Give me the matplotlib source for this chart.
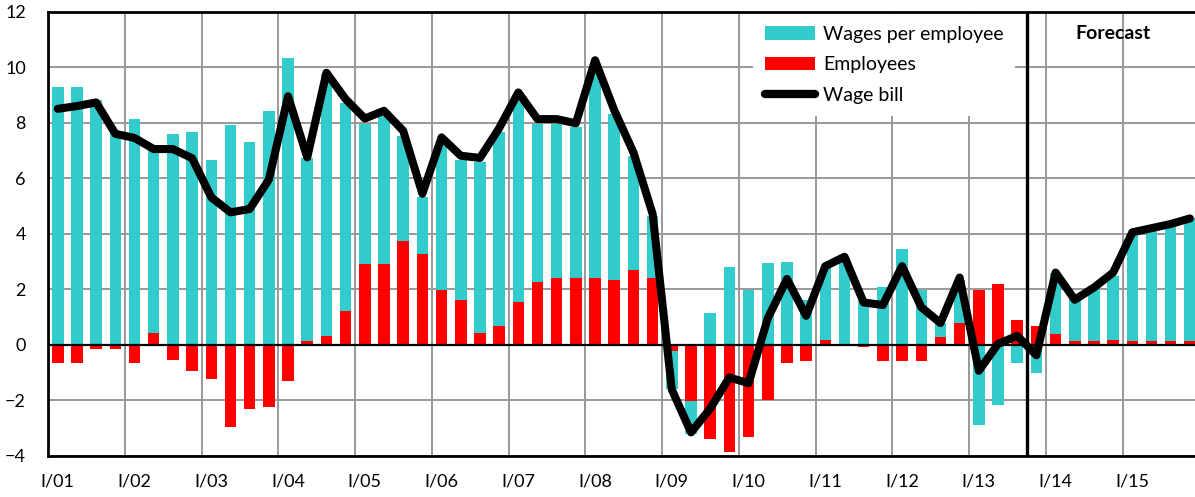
import matplotlib
matplotlib.use('Agg')
import matplotlib.pyplot as plt
import numpy as np
from matplotlib.patches import Patch
from matplotlib.lines import Line2D

plt.rcParams['font.family'] = ['Lato', 'DejaVu Sans']

# Year labels at first quarters
year_labels = ['I/01', 'I/02', 'I/03', 'I/04', 'I/05', 'I/06', 'I/07', 'I/08',
               'I/09', 'I/10', 'I/11', 'I/12', 'I/13', 'I/14', 'I/15']

employees = [-0.67, -0.67, -0.15, -0.15, -0.67, 0.41, -0.54, -0.96, -1.25, -2.98,
             -2.33, -2.25, -1.32, 0.12, 0.32, 1.2, 2.92, 2.92, 3.72, 3.27,
             1.98, 1.62, 0.41, 0.68, 1.55, 2.27, 2.41, 2.41, 2.41, 2.34,
             2.7, 2.41, -0.22, -2.04, -3.39, -3.85, -3.34, -1.98, -0.67, -0.6,
             0.17, 0.0, -0.1, -0.6, -0.6, -0.6, 0.26, 0.77, 1.98, 2.2,
             0.9, 0.68, 0.4, 0.12, 0.12, 0.18, 0.12, 0.12, 0.12, 0.12]

wages_per_employee = [9.27, 9.27, 8.83, 7.7, 8.12, 6.6, 7.61, 7.68, 6.67, 7.92,
                      7.32, 8.41, 10.34, 6.61, 9.43, 7.5, 5.03, 5.33, 3.81, 2.04,
                      5.34, 5.04, 6.19, 7.0, 7.24, 5.68, 5.54, 5.42, 7.55, 5.97,
                      4.11, 2.24, -1.38, -1.16, 1.13, 2.79, 1.98, 2.93, 2.99, 1.61,
                      2.62, 3.12, 1.59, 2.07, 3.45, 1.98, 0.51, 1.57, -2.89, -2.19,
                      -0.67, -1.03, 2.17, 1.58, 1.98, 2.31, 3.87, 4.1, 4.23, 4.45]

wage_bill = [8.5, 8.6, 8.73, 7.6, 7.45, 7.05, 7.05, 6.72, 5.31, 4.77,
             4.89, 5.95, 8.95, 6.75, 9.8, 8.85, 8.15, 8.43, 7.71, 5.44,
             7.47, 6.81, 6.73, 7.8, 9.09, 8.13, 8.13, 7.98, 10.25, 8.45,
             6.93, 4.71, -1.62, -3.16, -2.3, -1.18, -1.39, 0.95, 2.37, 1.04,
             2.83, 3.17, 1.52, 1.43, 2.83, 1.35, 0.78, 2.42, -0.94, 0.03,
             0.32, -0.38, 2.6, 1.62, 2.06, 2.6, 4.05, 4.2, 4.35, 4.55]

forecast_start = 50.5

CYAN = '#33CCCC'
RED = '#FF0000'
GRID = '#999999'

emp = np.array(employees)
wag = np.array(wages_per_employee)
x = np.arange(len(emp))
cyan_bottom = np.where(np.sign(wag) == np.sign(emp), emp, 0.0)

W, H = 1195, 497
fig = plt.figure(figsize=(W / 100, H / 100), dpi=100)
ax = fig.add_axes([48.2 / W, 1 - 455.7 / H, (1199.5 - 48.2) / W, 444 / H])

ax.bar(x, emp, width=0.6, color=RED, zorder=2, linewidth=0)
ax.bar(x, wag, width=0.6, bottom=cyan_bottom, color=CYAN, zorder=2, linewidth=0)
ax.axhline(0, color='black', lw=1.6, zorder=3)
ax.axvline(forecast_start, color='black', lw=2.4, zorder=3)
ax.plot(x, wage_bill, color='black', lw=5.8, zorder=4,
        solid_joinstyle='round', solid_capstyle='round')

ax.set_xlim(-0.5, 59.5)
ax.set_ylim(-4, 12)
ax.set_yticks(range(-4, 13, 2))
ax.set_xticks(np.arange(0, 60, 4))
ax.set_xticklabels(year_labels)
ax.set_xticks(np.arange(3.5, 59, 4), minor=True)
ax.set_axisbelow(True)
ax.grid(axis='y', which='major', color=GRID, lw=1.4)
ax.grid(axis='x', which='minor', color=GRID, lw=1.4)
ax.tick_params(which='both', length=0)
ax.tick_params(axis='y', pad=16, labelsize=13)
ax.tick_params(axis='x', pad=13, labelsize=13)
for s in ['left', 'top', 'bottom']:
    ax.spines[s].set_color('black')
    ax.spines[s].set_linewidth(2)
ax.spines['right'].set_visible(False)

ax.text(55, 11.2, 'Forecast', ha='center', va='center', fontsize=14,
        fontweight='bold', zorder=5)

handles = [Patch(facecolor=CYAN, edgecolor='none'),
           Patch(facecolor=RED, edgecolor='none'),
           Line2D([0], [0], color='black', lw=6, solid_capstyle='round')]
leg = ax.legend(handles, ['Wages per employee', 'Employees', 'Wage bill'],
                loc='upper left', bbox_to_anchor=(753 / W, 1 - 14 / H),
                bbox_transform=fig.transFigure, fontsize=14, frameon=True,
                fancybox=False, borderpad=0.6, borderaxespad=0,
                handlelength=2.6, handletextpad=0.41, labelspacing=0.7)
leg.get_frame().set_facecolor('white')
leg.get_frame().set_edgecolor('none')
leg.get_frame().set_alpha(1)
leg.set_zorder(6)

fig.savefig('out.png', dpi=100)
